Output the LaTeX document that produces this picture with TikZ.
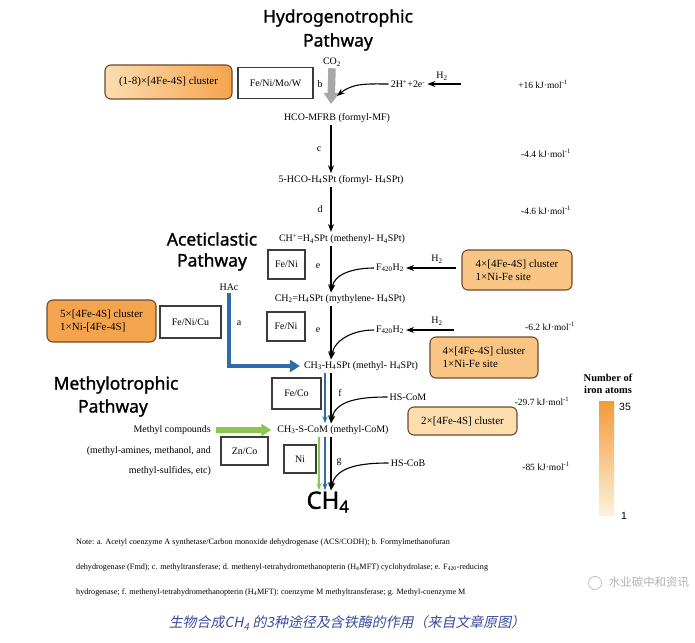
\documentclass[tikz,border=0pt]{standalone}
\usepackage{fontspec}
\setmainfont{Liberation Serif}
\newfontfamily\titlefont[FakeBold=1.2]{Noto Sans}
\newfontfamily\arialfont{Liberation Sans}
\newfontfamily\cjkslant[FakeSlant=0.2]{Noto Sans CJK SC}
\newfontfamily\cjkplain{Noto Sans CJK SC}
\usetikzlibrary{arrows.meta,shadings}
\definecolor{orA}{HTML}{F5A44E}
\definecolor{orB}{HTML}{F9C584}
\definecolor{orC}{HTML}{FCDDAE}
\definecolor{orL}{HTML}{FBDDB0}
\definecolor{orEdge}{HTML}{6E4A2C}
\definecolor{blueA}{HTML}{2F6DAA}
\definecolor{greenA}{HTML}{8CC652}
\definecolor{grayA}{HTML}{A8A8A8}
\definecolor{capblue}{HTML}{3B4C9E}
\definecolor{boxedge}{HTML}{3C3C3C}
\definecolor{cbtop}{HTML}{F39A3A}
\definecolor{cbbot}{HTML}{FDF2D8}
\begin{document}
\begin{tikzpicture}[x=1bp,y=-1bp,
  title/.style={inner sep=0pt,font=\titlefont\fontsize{17.5}{20}\selectfont},
  chem/.style={inner sep=2pt,font=\fontsize{10}{12}\selectfont},
  lab/.style={inner sep=0pt,font=\fontsize{10}{12}\selectfont},
  energy/.style={inner sep=0pt,font=\fontsize{9.5}{11}\selectfont},
  wbox/.style={draw=boxedge,line width=1.1pt,inner sep=0pt,font=\fontsize{10}{12}\selectfont},
  obox/.style={draw=orEdge,line width=1.1pt,rounded corners=6pt,inner sep=0pt,align=left,font=\fontsize{11}{13.5}\selectfont},
  arr/.style={line width=1.1pt,-{Stealth[length=8pt,width=6pt]}},
  thinarr/.style={line width=1.1pt,-{Stealth[length=7pt,width=5pt]}},
  note/.style={anchor=west,inner sep=0pt,font=\fontsize{8.2}{10}\selectfont}
]
\fill[white] (0,0) rectangle (695,643);
\useasboundingbox (0,0) rectangle (695,643);

% titles
\node[title] (ht1) at (338,18) {Hydrogenotrophic};
\node[title] (ht2) at (338,42) {Pathway};
\node[title] (at1) at (212,239) {Aceticlastic};
\node[title] (at2) at (212,262) {Pathway};
\node[title] (mt1) at (116,385) {Methylotrophic};
\node[title] (mt2) at (113,408) {Pathway};

% axis
\coordinate (ax) at (331,0);

% main chain
\node[chem] (co2) at (332,62) {CO\textsubscript{2}};
\node[chem] (hco) at (337,118) {HCO-MFRB (formyl-MF)};
\node[chem] (fhs) at (341,180) {5-HCO-H\textsubscript{4}SPt (formyl- H\textsubscript{4}SPt)};
\node[chem] (meth) at (342,239) {CH\textsuperscript{+}=H\textsubscript{4}SPt (methenyl- H\textsubscript{4}SPt)};
\node[chem] (mthy) at (340,299) {CH\textsubscript{2}=H\textsubscript{4}SPt (mythylene- H\textsubscript{4}SPt)};
\node[chem] (mh4) at (361,366) {CH\textsubscript{3}-H\textsubscript{4}SPt (methyl- H\textsubscript{4}SPt)};
\node[chem] (mcom) at (333,430) {CH\textsubscript{3}-S-CoM (methyl-CoM)};
\node[inner sep=1pt,font=\titlefont\fontsize{24}{28}\selectfont] (ch4) at (328,502) {CH\textsubscript{4}};

% step b
\coordinate (btip) at (331,104);
\draw[grayA,line width=7.5pt,-{Triangle[length=11pt,width=15pt]}] (co2.south) -- (btip);
\node[chem] (e2h) at (408,84) {2H\textsuperscript{+}+2e\textsuperscript{-}};
\node[lab] (h2a) at (442,76) {H\textsubscript{2}};
\coordinate (h2as) at (461,84);
\draw[arr] (h2as) -- (e2h.east);
\coordinate (bcurve) at (337,96);
\draw[arr] (e2h.west) to[out=180,in=40] (bcurve);
\node[lab] (lb) at (320,84) {b};
\node[wbox,minimum width=75bp,minimum height=31bp] (fnmw) at (275.5,83) {Fe/Ni/Mo/W};
\node[obox,minimum width=127bp,minimum height=34bp,left color=orL,right color=orA,align=center] (ob1) at (168.5,82) {(1-8)×[4Fe-4S] cluster};
\node[energy] (en1) at (543,84) {+16 kJ·mol\textsuperscript{-1}};

% step c
\draw[arr] (hco.south -| ax) -- (fhs.north -| ax);
\node[lab] (lc) at (319,149) {c};
\node[energy] (en2) at (546,153) {-4.4 kJ·mol\textsuperscript{-1}};

% step d
\draw[arr] (fhs.south -| ax) -- (meth.north -| ax);
\node[lab] (ld) at (320,209) {d};
\node[energy] (en3) at (546,210) {-4.6 kJ·mol\textsuperscript{-1}};

% step e (1)
\draw[arr] (meth.south -| ax) -- (mthy.north -| ax);
\node[wbox,minimum width=37bp,minimum height=29bp] (feni1) at (286.5,264.5) {Fe/Ni};
\node[lab] (le1) at (318,266) {e};
\node[chem] (f1) at (390,268) {F\textsubscript{420}H\textsubscript{2}};
\node[lab] (h2b) at (437,259) {H\textsubscript{2}};
\coordinate (h2bs) at (456,268);
\draw[arr] (h2bs) -- (f1.east);
\draw[arr] (f1.west) to[out=180,in=80] (mthy.north -| ax);
\node[obox,minimum width=110bp,minimum height=40bp,fill=orB] (ob2) at (517,270) {4×[4Fe-4S] cluster\\1×Ni-Fe site};

% step e (2)
\draw[arr] (mthy.south -| ax) -- (mh4.north -| ax);
\node[wbox,minimum width=38bp,minimum height=29bp] (feni2) at (286,326.5) {Fe/Ni};
\node[lab] (le2) at (318,330) {e};
\node[chem] (f2) at (390,330) {F\textsubscript{420}H\textsubscript{2}};
\node[lab] (h2c) at (437,321) {H\textsubscript{2}};
\coordinate (h2cs) at (454,330);
\draw[arr] (h2cs) -- (f2.east);
\draw[arr] (f2.west) to[out=180,in=80] (mh4.north -| ax);
\node[obox,minimum width=108bp,minimum height=41bp,fill=orB] (ob3) at (484,357.5) {4×[4Fe-4S] cluster\\1×Ni-Fe site};
\node[energy] (en4) at (550,326) {-6.2 kJ·mol\textsuperscript{-1}};

% aceticlastic
\node[chem] (hac) at (229,287) {HAc};
\draw[blueA,line width=4.5pt,-{Triangle[length=10pt,width=12pt]}] (hac.south) |- ([xshift=-2pt]mh4.west);
\node[wbox,minimum width=61bp,minimum height=32bp] (fenicu) at (190.5,322) {Fe/Ni/Cu};
\node[obox,minimum width=109bp,minimum height=42bp,fill=orA] (ob4) at (101.5,321) {5×[4Fe-4S] cluster\\1×Ni-[4Fe-4S]};
\node[lab] (la) at (239,323) {a};

% step f
\coordinate (bx) at (325,0);
\coordinate (gx) at (319,0);
\draw[blueA,thinarr] (mh4.south -| bx) -- (mcom.north -| bx);
\draw[arr] (mh4.south -| ax) -- (mcom.north -| ax);
\node[wbox,minimum width=49bp,minimum height=31bp] (feco) at (296.5,393.5) {Fe/Co};
\node[lab] (lf) at (340,393) {f};
\node[chem] (hscom) at (408,397) {HS-CoM};
\draw[arr] (hscom.west) to[out=180,in=80] (mcom.north -| ax);
\node[obox,minimum width=109bp,minimum height=28bp,fill=orC,align=center] (ob5) at (462.5,421) {2×[4Fe-4S] cluster};
\node[energy] (en5) at (542,401) {-29.7 kJ·mol\textsuperscript{-1}};

% methylotrophic
\node[chem,anchor=east] (mc1) at (213,430) {Methyl compounds};
\node[chem,anchor=east] (mc2) at (213,451) {(methyl-amines, methanol, and};
\node[chem,anchor=east] (mc3) at (213,471) {methyl-sulfides, etc)};
\draw[greenA,line width=5.5pt,-{Triangle[length=10pt,width=12pt]},shorten <=3pt,shorten >=4pt] (mc1.east) -- (mcom.west);
\node[wbox,minimum width=47bp,minimum height=28bp] (znco) at (244.5,451) {Zn/Co};

% step g
\draw[greenA,thinarr] (mcom.south -| gx) -- (ch4.north -| gx);
\draw[blueA,thinarr] (mcom.south -| bx) -- (ch4.north -| bx);
\draw[arr] (mcom.south -| ax) -- (ch4.north -| ax);
\node[wbox,minimum width=32bp,minimum height=28bp] (ni) at (300,459) {Ni};
\node[lab] (lg) at (339,462) {g};
\node[chem] (hscob) at (408,463) {HS-CoB};
\draw[arr] (hscob.west) to[out=180,in=80] (ch4.north -| ax);
\node[energy] (en6) at (546,466) {-85 kJ·mol\textsuperscript{-1}};

% colour bar
\node[inner sep=0pt,align=center,font=\bfseries\fontsize{10.5}{12.5}\selectfont] (cbt) at (608,384) {Number of\\iron atoms};
\node[inner sep=0pt,minimum width=15bp,minimum height=114bp,top color=cbtop,bottom color=cbbot] (cbar) at (606.5,458) {};
\node[inner sep=0pt,font=\arialfont\fontsize{10.5}{12}\selectfont] (c35) at (625,407) {35};
\node[inner sep=0pt,font=\arialfont\fontsize{10.5}{12}\selectfont] (c1) at (624,516) {1};

% note
\node[note] (n1) at (76,543) {Note: a. Acetyl coenzyme A synthetase/Carbon monoxide dehydrogenase (ACS/CODH); b. Formylmethanofuran};
\node[note] (n2) at (76,567) {dehydrogenase (Fmd); c. methyltransferase; d. methenyl-tetrahydromethanopterin (H\textsubscript{4}MFT) cyclohydrolase; e. F\textsubscript{420}-reducing};
\node[note] (n3) at (76,592) {hydrogenase; f. methenyl-tetrahydromethanopterin (H\textsubscript{4}MFT): coenzyme M methyltransferase; g. Methyl-coenzyme M};

% watermark
\node[circle,fill=white,draw=gray!50,line width=0.8pt,minimum size=13bp,inner sep=0pt] (wmlogo) at (595,583) {};
\node[inner sep=1pt,fill=white,fill opacity=0.6,text opacity=1,text=gray!60,font=\cjkplain\fontsize{11.5}{13}\selectfont] (wm) at (649,582) {水业碳中和资讯};

% caption
\node[inner sep=0pt,text=capblue,font=\cjkslant\fontsize{14}{16}\selectfont] (cap) at (347,623) {生物合成CH\textsubscript{4}\hspace{3pt}的3种途径及含铁酶的作用（来自文章原图）};
\end{tikzpicture}
\end{document}
